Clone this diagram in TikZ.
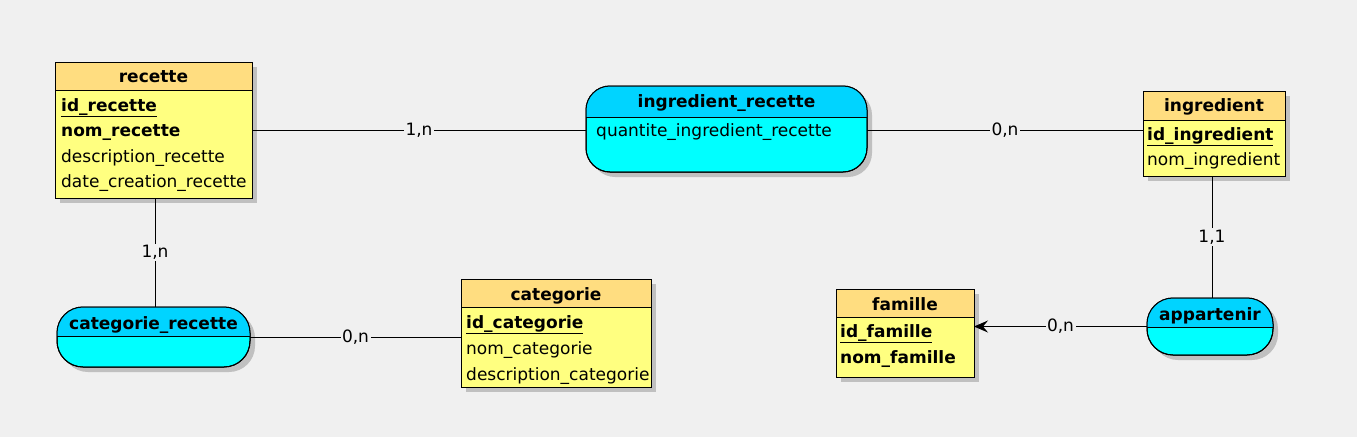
\documentclass[tikz,border=0pt]{standalone}
\usepackage{fontspec}
\setmainfont{DejaVu Sans}
\usetikzlibrary{shadows,arrows.meta}
\definecolor{bgc}{RGB}{240,240,240}
\definecolor{enthead}{RGB}{255,221,128}
\definecolor{entbody}{RGB}{255,255,128}
\definecolor{ashead}{RGB}{0,212,255}
\definecolor{asbody}{RGB}{0,255,255}
\definecolor{shadowc}{RGB}{192,192,192}
\tikzset{
  box/.style={draw=black, line width=1pt, inner sep=0pt, outer sep=0pt,
    drop shadow={shadow xshift=5pt, shadow yshift=-5pt, fill=shadowc, opacity=1}},
  entity/.style={box, rectangle, fill=entbody},
  assoc/.style={box, rectangle, rounded corners=#1, fill=asbody},
  ttl/.style={font=\fontsize{17}{20}\selectfont\bfseries, anchor=base, inner sep=0pt},
  attr/.style={font=\fontsize{17}{20}\selectfont, anchor=base west, inner sep=0pt},
  attrb/.style={font=\fontsize{17}{20}\selectfont\bfseries, anchor=base west, inner sep=0pt},
  card/.style={font=\fontsize{17}{20}\selectfont, fill=bgc, inner sep=1.5pt},
  link/.style={draw=black, line width=1pt},
}
\newcommand{\enthdr}[2]{% node, header bottom y
  \fill[enthead] (#1.north west) rectangle (#1.east |- 0,#2);
  \draw[line width=1pt] (#1.west |- 0,#2) -- (#1.east |- 0,#2);
  \draw[line width=1pt] (#1.south west) rectangle (#1.north east);}
\newcommand{\ashdr}[3]{% node, divider y, radius
  \begin{scope}
  \clip[rounded corners=#3] (#1.south west) rectangle (#1.north east);
  \fill[ashead] (#1.north west) rectangle (#1.east |- 0,#2);
  \end{scope}
  \draw[line width=1pt] (#1.west |- 0,#2) -- (#1.east |- 0,#2);
  \draw[line width=1pt, rounded corners=#3] (#1.south west) rectangle (#1.north east);}
\begin{document}
\begin{tikzpicture}[x=1pt,y=-1pt]
\fill[bgc] (0,0) rectangle (1357,437);
\useasboundingbox (0,0) rectangle (1357,437);

% entities
\node[entity, minimum width=197pt, minimum height=136pt] (recette) at (153.5,130) {};
\enthdr{recette}{90}
\node[ttl] (recetteT) at (153.5,82) {recette};
\node[attrb] (r1) at (61,111) {\underline{id\_recette}};
\node[attrb] (r2) at (61,136) {nom\_recette};
\node[attr] (r3) at (61,162) {description\_recette};
\node[attr] (r4) at (61,187) {date\_creation\_recette};

\node[entity, minimum width=142pt, minimum height=85pt] (ingredient) at (1214,133.5) {};
\enthdr{ingredient}{120}
\node[ttl] (ingredientT) at (1214,111) {ingredient};
\node[attrb] (i1) at (1147,140) {\underline{id\_ingredient}};
\node[attr] (i2) at (1147,165) {nom\_ingredient};

\node[entity, minimum width=190pt, minimum height=108pt] (categorie) at (556,333) {};
\enthdr{categorie}{307}
\node[ttl] (categorieT) at (556,300) {categorie};
\node[attrb] (c1) at (466,328) {\underline{id\_categorie}};
\node[attr] (c2) at (466,354) {nom\_categorie};
\node[attr] (c3) at (466,380) {description\_categorie};

\node[entity, minimum width=138pt, minimum height=88pt] (famille) at (905,333) {};
\enthdr{famille}{317}
\node[ttl] (familleT) at (905,310) {famille};
\node[attrb] (f1) at (840,337) {\underline{id\_famille}};
\node[attrb] (f2) at (840,363) {nom\_famille};

% associations
\node[assoc=24pt, minimum width=281pt, minimum height=86pt] (ir) at (726.5,129) {};
\ashdr{ir}{117}{24pt}
\node[ttl] (irT) at (726.5,107) {ingredient\_recette};
\node[attr] (ir1) at (596,136) {quantite\_ingredient\_recette};

\node[assoc=26pt, minimum width=193pt, minimum height=60pt] (cr) at (153.5,337) {};
\ashdr{cr}{336}{26pt}
\node[ttl] (crT) at (153.5,329) {categorie\_recette};

\node[assoc=26pt, minimum width=126pt, minimum height=57pt] (app) at (1210,326.5) {};
\ashdr{app}{327}{26pt}
\node[ttl] (appT) at (1210,320) {appartenir};

% links
\draw[link] (recette.east |- 0,130) -- node[card] (l1) {1,n} (ir.west |- 0,130);
\draw[link] (ir.east |- 0,130) -- node[card] (l2) {0,n} (ingredient.west |- 0,130);
\draw[link] (recette.south -| 155,0) -- node[card] (l3) {1,n} (cr.north -| 155,0);
\draw[link] (cr.east) -- node[card] (l4) {0,n} (cr.east -| categorie.west);
\draw[link] (ingredient.south -| 1212,0) -- node[card] (l5) {1,1} (app.north -| 1212,0);
\draw[link, -{Stealth[length=14pt,width=12pt,inset=5pt]}] (app.west) -- node[card] (l6) {0,n} (app.west -| famille.east);
\end{tikzpicture}
\end{document}
